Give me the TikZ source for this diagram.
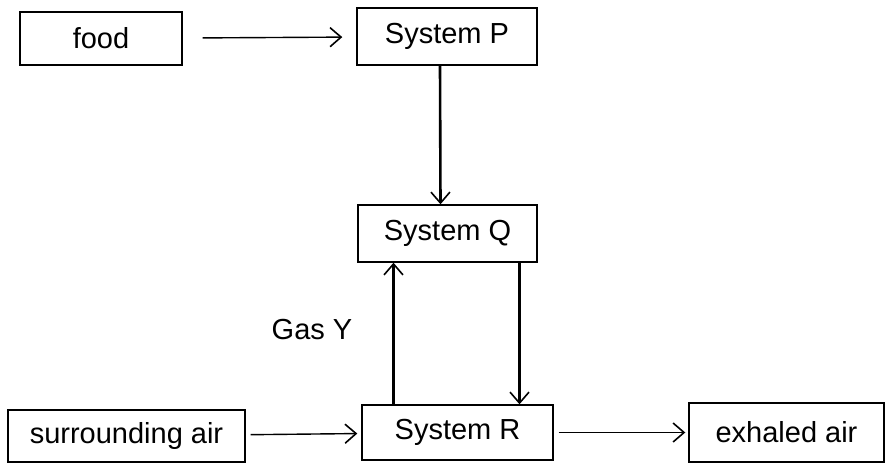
\documentclass[tikz,border=0pt]{standalone}
\usepackage{fontspec}
\setmainfont{Liberation Sans}
\usepackage{tikz}
\usetikzlibrary{arrows, arrows.meta, positioning, calc}
\tikzset{
	sysbox/.style={rectangle, draw, line width=1.4pt, inner sep=0pt, font=\fontsize{29}{32}\selectfont},
	line/.style={draw, line width=1.4pt, -{Straight Barb[length=11pt, width=19pt, line width=1.6pt]}},
	thickline/.style={line, line width=2.6pt}
}
\begin{document}
\begin{tikzpicture}[x=1pt, y=-1pt]
	\useasboundingbox (0,0) rectangle (887,466);
	% Boxes
	\node[sysbox, minimum width=162pt, minimum height=53pt] (food) at (101,38.5) {food};
	\node[sysbox, minimum width=180pt, minimum height=57pt] (P) at (447,36.5) {System P};
	\node[sysbox, minimum width=179pt, minimum height=57pt] (Q) at (447.5,233.5) {System Q};
	\node[sysbox, minimum width=191pt, minimum height=55pt] (R) at (457.5,432.5) {System R};
	\node[sysbox, minimum width=237pt, minimum height=52pt] (surr) at (126.5,436) {surrounding air};
	\node[sysbox, minimum width=195pt, minimum height=59pt] (exh) at (786.5,432.5) {exhaled air};
	% Label
	\node[font=\fontsize{29}{32}\selectfont] (gas) at (312,330) {Gas Y};
	
	% Connections
	\draw[line, shorten <=20pt, shorten >=14pt] (food) -- (P);
	\draw[thickline] ([xshift=-7pt]P.south) -- ([xshift=-7pt]Q.north);
	\draw[thickline] ([xshift=-64pt]R.north) -- ([xshift=-64pt]R.north |- Q.south);
	\draw[thickline] ([xshift=72pt]Q.south) -- ([xshift=72pt]Q.south |- R.north);
	\draw[line, shorten <=5pt, shorten >=4pt] (surr) -- (R);
	\draw[line, shorten <=5pt, shorten >=3pt] (R) -- (exh);
\end{tikzpicture}
\end{document}
